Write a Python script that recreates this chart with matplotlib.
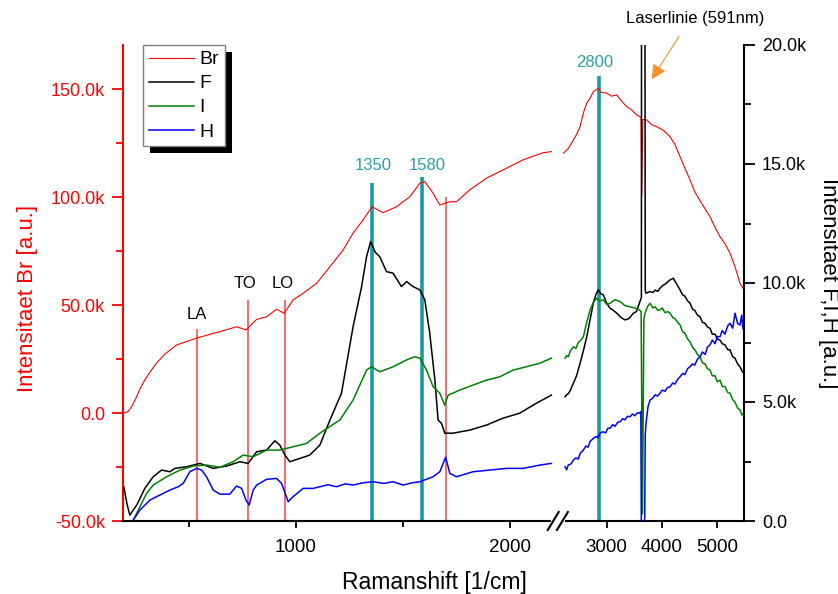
import numpy as np
import matplotlib
matplotlib.use('Agg')
import matplotlib.pyplot as plt
from matplotlib.ticker import FixedLocator, MultipleLocator, FuncFormatter
from matplotlib.patches import Rectangle

plt.rcParams['font.family'] = ['Liberation Sans', 'DejaVu Sans']

# --- spectra (Raman shift in 1/cm) ---
br_x = [193, 216, 235, 254, 272, 295, 319, 350, 389, 443, 538, 645, 723, 767, 817, 863,
        910, 945, 987, 1034, 1097, 1159, 1221, 1267, 1314, 1356, 1407, 1470, 1532, 1579,
        1602, 1641, 1672, 1719, 1750, 1812, 1890, 1967, 2061, 2154, 2193,
        2211, 2300, 2393, 2450, 2515, 2580, 2636, 2700, 2756, 2847, 2900, 3000, 3090, 3182,
        3270, 3364, 3450, 3540, 3605, 3625, 3638, 3655, 3727, 3820, 3909, 4030, 4151, 4240,
        4333, 4420, 4515, 4600, 4696, 4790, 4878, 4970, 5060, 5150, 5242, 5330, 5424, 5496]
br_y = [0, 640, 3280, 6990, 11150, 15330, 19030, 23200, 27370, 31540, 34780, 37700, 40000,
        38500, 43400, 44600, 48100, 46200, 52400, 55500, 60100, 67800, 75600, 83300, 89500,
        95600, 92800, 95600, 100200, 106500, 107200, 101800, 96400, 97900, 97900, 103400,
        108800, 112600, 117300, 120600, 121100,
        120400, 122500, 126500, 129000, 132700, 139500, 143500, 146000, 148900, 150500,
        148500, 148200, 146800, 147400, 144500, 141900, 140500, 138200, 137300, 136500,
        101000, 136000, 135800, 133500, 132700, 131000, 128000, 124500, 118800, 113500,
        108000, 102500, 98400, 94500, 91000, 86000, 81700, 78500, 74000, 68000, 60000, 57000]

f_x = [197, 212, 225, 257, 295, 334, 373, 412, 435, 490, 552, 614, 677, 739, 777, 817, 863,
       902, 925, 949, 972, 1019, 1065, 1112, 1159, 1213, 1267, 1307, 1330, 1349, 1370, 1392,
       1423, 1454, 1493, 1517, 1547, 1579, 1602, 1625, 1649, 1664, 1680, 1695, 1734, 1812,
       1890, 1967, 2045, 2123, 2193,
       2242, 2270, 2300, 2340, 2393, 2450, 2515, 2580, 2636, 2700, 2756, 2800, 2847, 2890,
       2938, 3000, 3060, 3120, 3182, 3260, 3333, 3400, 3484, 3540, 3593, 3630, 3640, 3680,
       3700, 3714, 3787, 3840, 3880, 3930, 3969, 4020, 4060, 4110, 4151, 4211, 4260, 4333,
       4380, 4420, 4470, 4515, 4560, 4600, 4650, 4696, 4740, 4790, 4830, 4878, 4920, 4970,
       5010, 5060, 5100, 5150, 5200, 5242, 5290, 5330, 5380, 5424, 5460, 5496]
f_y = [1430, 700, 250, 670, 1370, 1860, 2140, 2070, 2210, 2280, 2420, 2210, 2310, 2490, 2420,
       2910, 2980, 3370, 3190, 2770, 2490, 2630, 2770, 3190, 4240, 5370, 8160, 9850, 11100,
       11740, 11300, 11100, 10480, 10410, 9850, 10060, 9850, 9710, 9290, 7890, 5920, 4240,
       4100, 3690, 3690, 3820, 4030, 4320, 4530, 4950, 5290,
       5220, 5300, 5350, 5500, 5790, 6100, 6630, 7200, 7740, 8500, 9150, 9500, 9710, 9550,
       9500, 9150, 8940, 8850, 8730, 8550, 8450, 8500, 8730, 8800, 9150, 9400, 60000, 60000,
       9700, 9570, 9640, 9600, 9700, 9650, 9780, 9900, 9950, 10050, 10130, 10200, 10000, 9710,
       9500, 9450, 9250, 9150, 8900, 8850, 8650, 8580, 8350, 8300, 8150, 8100, 7850, 7850,
       7650, 7600, 7450, 7400, 7200, 7190, 6900, 6850, 6600, 6480, 6300, 6200]

i_x = [241, 272, 303, 334, 397, 459, 521, 583, 645, 707, 754, 801, 863, 925, 987, 1050,
       1112, 1205, 1267, 1330, 1353, 1392, 1454, 1517, 1555, 1579, 1610, 1641, 1672, 1695,
       1711, 1765, 1827, 1890, 1952, 2014, 2076, 2139, 2193,
       2242, 2270, 2300, 2340, 2393, 2440, 2480, 2530, 2575, 2630, 2697, 2760, 2818, 2870,
       2938, 3000, 3060, 3150, 3242, 3330, 3424, 3510, 3593, 3625, 3650, 3675, 3696, 3740,
       3787, 3840, 3880, 3930, 3969, 4010, 4060, 4110, 4151, 4200, 4240, 4290, 4333, 4380,
       4420, 4470, 4515, 4560, 4600, 4650, 4696, 4740, 4790, 4830, 4878, 4920, 4970, 5010,
       5060, 5100, 5150, 5200, 5242, 5290, 5330, 5380, 5424, 5460, 5496]
i_y = [40, 600, 1160, 1510, 1860, 2140, 2310, 2350, 2260, 2490, 2770, 2700, 2980, 2980,
       3120, 3260, 3690, 4240, 5080, 6340, 6480, 6270, 6480, 6770, 6900, 6840, 6340, 5640,
       5370, 4870, 5290, 5500, 5710, 5920, 6060, 6340, 6480, 6630, 6840,
       6840, 6950, 6900, 7150, 7320, 7250, 7500, 7600, 7740, 8300, 8870, 9200, 9360, 9250,
       9290, 9100, 9150, 9300, 9220, 9050, 9000, 8950, 8870, 8800, 300, 8500, 8730, 9000,
       9150, 8950, 9000, 8850, 8870, 8950, 8750, 8800, 8730, 8550, 8500, 8350, 8240, 7950,
       7900, 7650, 7530, 7300, 7200, 7000, 6900, 6650, 6600, 6400, 6340, 6100, 6100, 5850,
       5920, 5650, 5650, 5400, 5370, 5100, 5000, 4750, 4660, 4450, 4530]

h_x = [241, 272, 319, 365, 412, 451, 474, 505, 537, 560, 583, 614, 645, 692, 723, 747, 767,
       782, 801, 817, 863, 910, 933, 953, 964, 987, 1034, 1081, 1112, 1150, 1190, 1230, 1267,
       1310, 1361, 1410, 1454, 1501, 1540, 1579, 1641, 1672, 1699, 1719, 1750, 1827, 1905,
       1983, 2061, 2139, 2193,
       2242, 2270, 2300, 2350, 2393, 2440, 2480, 2520, 2575, 2620, 2660, 2700, 2757, 2800,
       2840, 2878, 2930, 2980, 3020, 3060, 3110, 3150, 3200, 3242, 3290, 3330, 3380, 3424,
       3470, 3510, 3560, 3593, 3620, 3632, 3684, 3700, 3714, 3750, 3787, 3830, 3880, 3920,
       3969, 4010, 4060, 4100, 4151, 4200, 4240, 4290, 4333, 4380, 4420, 4470, 4515, 4560,
       4600, 4650, 4696, 4740, 4790, 4830, 4878, 4920, 4970, 5010, 5060, 5100, 5150, 5200,
       5242, 5290, 5333, 5380, 5424, 5454, 5475, 5496]
h_y = [40, 460, 880, 1090, 1300, 1440, 1580, 2070, 2210, 2140, 1860, 1300, 1130, 1130, 1470,
       1370, 880, 670, 1300, 1510, 1750, 1790, 1580, 1090, 810, 1020, 1370, 1370, 1440, 1520,
       1440, 1560, 1510, 1600, 1650, 1580, 1650, 1510, 1600, 1650, 1860, 2070, 2680, 2000,
       1860, 2070, 2140, 2210, 2210, 2350, 2420,
       2280, 2150, 2350, 2400, 2560, 2650, 2600, 2850, 2980, 3150, 3100, 3350, 3470, 3550,
       3500, 3690, 3750, 3700, 3900, 3900, 4050, 3980, 4150, 4170, 4300, 4250, 4400, 4380,
       4500, 4420, 4550, 4530, 4600, -2000, -2000, 3600, 4100, 4800, 5080, 5150, 5300, 5250,
       5370, 5500, 5450, 5600, 5640, 5800, 5750, 5950, 6060, 6200, 6150, 6400, 6480, 6600,
       6550, 6800, 6900, 7100, 7000, 7300, 7400, 7600, 7450, 7750, 7740, 8000, 7850, 8200,
       8310, 8100, 8730, 8300, 8240, 8650, 8100, 8030]

# reference lines
phonon_x = [538, 776, 947, 1700]
phonon_top = [38800, 52400, 52400, 100200]
phonon_lbl = ['LA', 'TO', 'LO']
phonon_lbl_x = [538, 763, 937]
phonon_lbl_y = [43500, 57800, 57800]
band_x = [1356, 1587, 2865]
band_top = [106700, 109200, 156200]
band_lbl = ['1350', '1580', '2800']
band_lbl_x = [1361, 1613, 2775]
band_lbl_y = [112600, 112600, 160500]

# broken x axis: linear up to BRK, compressed afterwards
BRK, GAP, K = 2200, 46, 0.2567
XMIN, XMAX = 193, 5496


def fwd(x):
    x = np.asarray(x, float)
    return np.where(x <= BRK, x, BRK + GAP + (x - BRK) * K)


def inv(y):
    y = np.asarray(y, float)
    return np.where(y <= BRK, y, np.where(y < BRK + GAP, BRK, BRK + (y - BRK - GAP) / K))


def seg_plot(axis, x, y, **kw):
    x = np.asarray(x)
    y = np.asarray(y)
    left = x < BRK
    ln, = axis.plot(x[left], y[left], **kw)
    axis.plot(x[~left], y[~left], **kw)
    return ln


fig = plt.figure(figsize=(8.38, 5.94), dpi=100)
ax = fig.add_axes([123 / 838, 1 - 521 / 594, 621 / 838, 476 / 594])
ax2 = ax.twinx()
ax.set_xscale('function', functions=(fwd, inv))
ax.set_xlim(XMIN, XMAX)
ax.set_ylim(-50000, 170500)
ax2.set_ylim(0, 20000)

# reference lines on Br axis
ax.vlines(phonon_x, -50000, phonon_top, color='#ff5a5a', lw=1.3, zorder=1)
ax.vlines(band_x, -50000, band_top, color='#1a9c9c', lw=2.6, zorder=1)
for t, x, y in zip(phonon_lbl, phonon_lbl_x, phonon_lbl_y):
    ax.text(x, y, t, ha='center', va='baseline', fontsize=12, color='black')
for t, x, y in zip(band_lbl, band_lbl_x, band_lbl_y):
    ax.text(x, y, t, ha='center', va='baseline', fontsize=12, color='#2aa0a8')

l_br = seg_plot(ax, br_x, br_y, color='#ff0000', lw=0.8, zorder=2)
l_f = seg_plot(ax2, f_x, f_y, color='black', lw=1.1)
l_i = seg_plot(ax2, i_x, i_y, color='#008000', lw=1.1)
l_h = seg_plot(ax2, h_x, h_y, color='#0000ff', lw=1.1)

# axes styling
for s in ['top', 'right']:
    ax.spines[s].set_visible(False)
for s in ['top', 'left', 'bottom']:
    ax2.spines[s].set_visible(False)
ax.spines['left'].set_color('red')
ax.spines['left'].set_linewidth(1.5)
ax.spines['bottom'].set_linewidth(1.5)
ax2.spines['right'].set_linewidth(1.5)

kfmt = FuncFormatter(lambda v, p: '0.0' if abs(v) < 1e-9 else f'{v / 1000:.1f}k')
ax.yaxis.set_major_locator(MultipleLocator(50000))
ax.yaxis.set_minor_locator(MultipleLocator(25000))
ax.yaxis.set_major_formatter(kfmt)
ax2.yaxis.set_major_locator(MultipleLocator(5000))
ax2.yaxis.set_minor_locator(MultipleLocator(2500))
ax2.yaxis.set_major_formatter(kfmt)
ax.xaxis.set_major_locator(FixedLocator([1000, 2000, 3000, 4000, 5000]))
ax.xaxis.set_minor_locator(FixedLocator([500, 1500]))
ax.xaxis.set_major_formatter(FuncFormatter(lambda v, p: f'{v:.0f}'))

ax.tick_params(axis='y', which='major', direction='out', length=8, width=1.3,
               color='red', labelcolor='red', labelsize=13, pad=5)
ax.tick_params(axis='y', which='minor', direction='out', length=5, width=1.3, color='red')
ax.tick_params(axis='x', which='major', direction='out', length=5, width=1.3, labelsize=13.5, pad=8)
ax.tick_params(axis='x', which='minor', direction='out', length=4, width=1.3)
ax2.tick_params(axis='y', which='major', direction='out', length=8, width=1.3, labelsize=13, pad=5)
ax2.tick_params(axis='y', which='minor', direction='out', length=5, width=1.3)

ax.set_ylabel('Intensitaet Br [a.u.]', color='red', fontsize=16)
ax.yaxis.set_label_coords(-0.1374, 0.4685)
ax2.set_ylabel('Intensitaet F,I,H [a.u.]', fontsize=16, rotation=-90, va='bottom')
ax2.yaxis.set_label_coords(1.119, 0.5)
ax.set_xlabel('Ramanshift [1/cm]', fontsize=16.5)
ax.xaxis.set_label_coords(0.5016, -0.105)

# axis break marks
span = float(fwd(XMAX)) - XMIN
cx = (BRK + GAP / 2 - XMIN) / span
ax2.add_artist(Rectangle((cx - 7 / 621, -3 / 476), 14 / 621, 6 / 476, transform=ax2.transAxes,
                         facecolor='white', edgecolor='none', clip_on=False, zorder=9))
for off in (-4.6, 4.6):
    c = cx + off / 621
    ax2.plot([c - 5.5 / 621, c + 5.5 / 621], [-9 / 476, 9 / 476], color='black', lw=1.5,
             transform=ax2.transAxes, clip_on=False, zorder=10)

# laser line annotation
ax2.annotate('Laserlinie (591nm)', xy=(3818, 18560), xytext=(4605, 20910),
             ha='center', va='baseline', fontsize=12, annotation_clip=False,
             arrowprops=dict(arrowstyle='-|>', color='#f5902a', lw=0.8, mutation_scale=22,
                             shrinkA=6, shrinkB=0, relpos=(0.43, 0)))

leg = ax2.legend([l_br, l_f, l_i, l_h], ['Br', 'F', 'I', 'H'], loc='upper left',
                 bbox_to_anchor=(143 / 838, 1 - 45 / 594), bbox_transform=fig.transFigure,
                 borderaxespad=0, fancybox=False, edgecolor='#808080', framealpha=1,
                 fontsize=14, handlelength=2.3, labelspacing=0.33, borderpad=0.3,
                 handletextpad=0.3)
leg.get_frame().set_linewidth(1.0)
fig.canvas.draw()
bb = leg.get_window_extent()
W, H = fig.bbox.width, fig.bbox.height
ax2.add_artist(Rectangle(((bb.x0 + 7) / W, (bb.y0 - 7) / H), bb.width / W, bb.height / H,
                         transform=fig.transFigure, facecolor='black', edgecolor='none',
                         zorder=4.9, clip_on=False))

fig.savefig('out.png', dpi=100)
